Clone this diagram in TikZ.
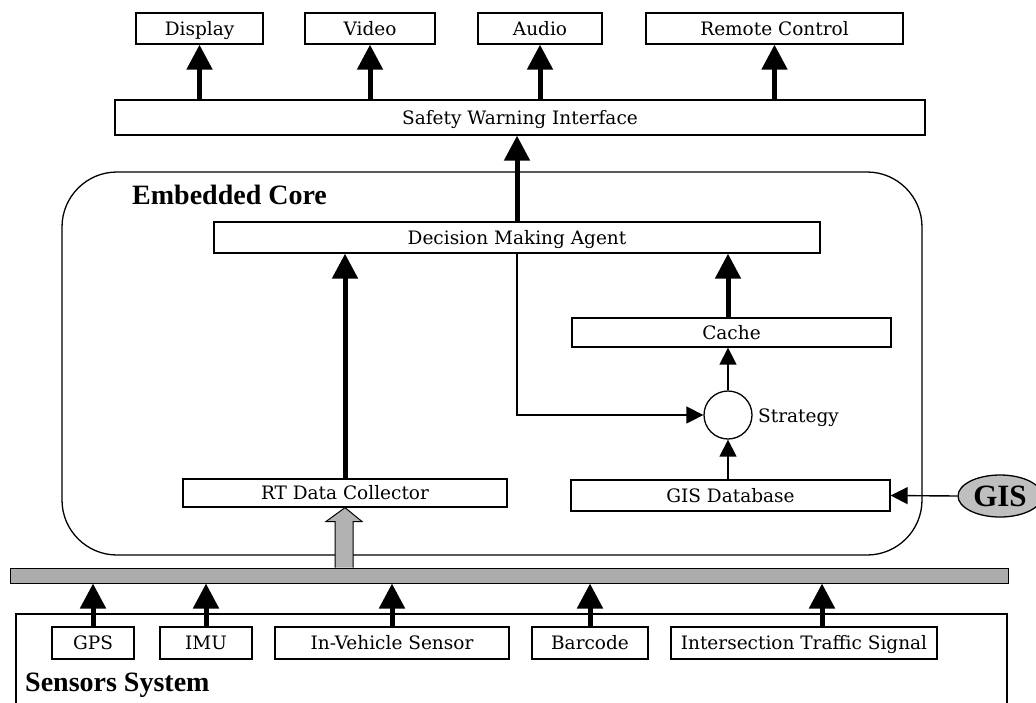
\documentclass[tikz,border=0pt]{standalone}
\usepackage{fontspec}
\setmainfont{DejaVu Serif}
\newfontfamily\bxfont{DejaVu Serif}
\newfontfamily\ttlfont{Liberation Serif}
\usetikzlibrary{arrows.meta,calc,shapes.geometric}
\tikzset{
  box/.style={draw, line width=1.3pt, inner sep=0pt, fill=white, text height=13.5pt, text depth=0.5pt, font=\bxfont\fontsize{18.5}{20}\selectfont},
  bigarrow/.style={line width=5pt, -{Triangle[width=25pt,length=25pt]}},
  thinarrow/.style={line width=1.4pt, -{Triangle[width=17pt,length=17pt]}},
  title/.style={anchor=west, inner sep=0pt, text height=19pt, text depth=0pt, font=\ttlfont\bfseries\fontsize{28}{30}\selectfont},
  lbl/.style={anchor=west, inner sep=0pt, text height=13.5pt, text depth=0.5pt, font=\bxfont\fontsize{18.5}{20}\selectfont},
}
\begin{document}
\begin{tikzpicture}[x=1pt,y=-1pt]
\useasboundingbox (0,0) rectangle (1036,702);
% top outputs
\node[box, minimum width=127pt, minimum height=31pt] (disp) at (199.5,28.5) {Display};
\node[box, minimum width=130pt, minimum height=31pt] (video) at (370,28.5) {Video};
\node[box, minimum width=124pt, minimum height=31pt] (audio) at (540,28.5) {Audio};
\node[box, minimum width=257pt, minimum height=31pt] (remote) at (774.5,28.5) {Remote Control};
\node[box, minimum width=810pt, minimum height=35pt] (sw) at (520,117.5) {Safety Warning Interface};
\draw[bigarrow] (disp.south |- sw.north) -- (disp.south);
\draw[bigarrow] (video.south |- sw.north) -- (video.south);
\draw[bigarrow] (audio.south |- sw.north) -- (audio.south);
\draw[bigarrow] (remote.south |- sw.north) -- (remote.south);
% embedded core
\draw[line width=1.3pt, rounded corners=55pt] (62,172) rectangle (922,555);
\node[title] (core) at (132,194.5) {Embedded Core};
\node[box, minimum width=606pt, minimum height=31pt] (dma) at (517,237.5) {Decision Making Agent};
\draw[bigarrow] (dma.north) -- (dma.north |- sw.south);
\node[box, minimum width=319pt, minimum height=29pt] (cache) at (731.5,332.5) {Cache};
\node[draw, circle, line width=1.3pt, minimum size=48pt, inner sep=0pt] (strat) at (728,415) {};
\node[lbl] (stratl) at (758,416) {Strategy};
\node[box, minimum width=324pt, minimum height=28pt] (rt) at (345,493) {RT Data Collector};
\node[box, minimum width=319pt, minimum height=31pt] (gisdb) at (730.5,495.5) {GIS Database};
\node[draw, ellipse, line width=1.3pt, fill=gray!50, minimum width=84pt, minimum height=42pt, inner sep=0pt, text height=21pt, text depth=0pt, font=\ttlfont\bfseries\fontsize{31}{32}\selectfont] (gis) at (1000,496) {GIS};
\draw[bigarrow] (rt.north) -- (rt.north |- dma.south);
\draw[bigarrow] (cache.north -| strat.north) -- (strat.north |- dma.south);
\draw[thinarrow] (strat.north) -- (strat.north |- cache.south);
\draw[thinarrow] (strat.south |- gisdb.north) -- (strat.south);
\draw[thinarrow] (dma.south) |- (strat.west);
\draw[thinarrow] (gis.west) -- (gisdb.east);
% bus
\node[draw, line width=1pt, fill=gray!65, minimum width=998pt, minimum height=15pt, inner sep=0pt] (bus) at (509,575.5) {};
\coordinate (busrt) at (bus.north -| rt.south);
\draw[line width=1pt, fill=gray!60] ($(busrt)+(-10,0)$) -- ($(busrt)+(-10,-46)$) -- ($(busrt)+(-19,-46)$) -- (rt.south) -- ($(busrt)+(17,-46)$) -- ($(busrt)+(8,-46)$) -- ($(busrt)+(8,0)$);
% sensors
\draw[line width=1.3pt] (16,712) -- (16,614) -- (1007,614) -- (1007,712);
\node[title] (sens) at (25,682) {Sensors System};
\node[box, minimum width=82pt, minimum height=32pt] (gps) at (93,643) {GPS};
\node[box, minimum width=92pt, minimum height=32pt] (imu) at (206,643) {IMU};
\node[box, minimum width=234pt, minimum height=32pt] (ivs) at (392,643) {In-Vehicle Sensor};
\node[box, minimum width=116pt, minimum height=32pt] (bar) at (590,643) {Barcode};
\node[box, minimum width=266pt, minimum height=32pt] (its) at (804,643) {Intersection Traffic Signal};
\draw[bigarrow] (gps.north) -- (gps.north |- bus.south);
\draw[bigarrow] (imu.north) -- (imu.north |- bus.south);
\draw[bigarrow] (ivs.north) -- (ivs.north |- bus.south);
\draw[bigarrow] (bar.north) -- (bar.north |- bus.south);
\draw[bigarrow] ([xshift=18pt]its.north) -- ([xshift=18pt]its.north |- bus.south);
\end{tikzpicture}
\end{document}
